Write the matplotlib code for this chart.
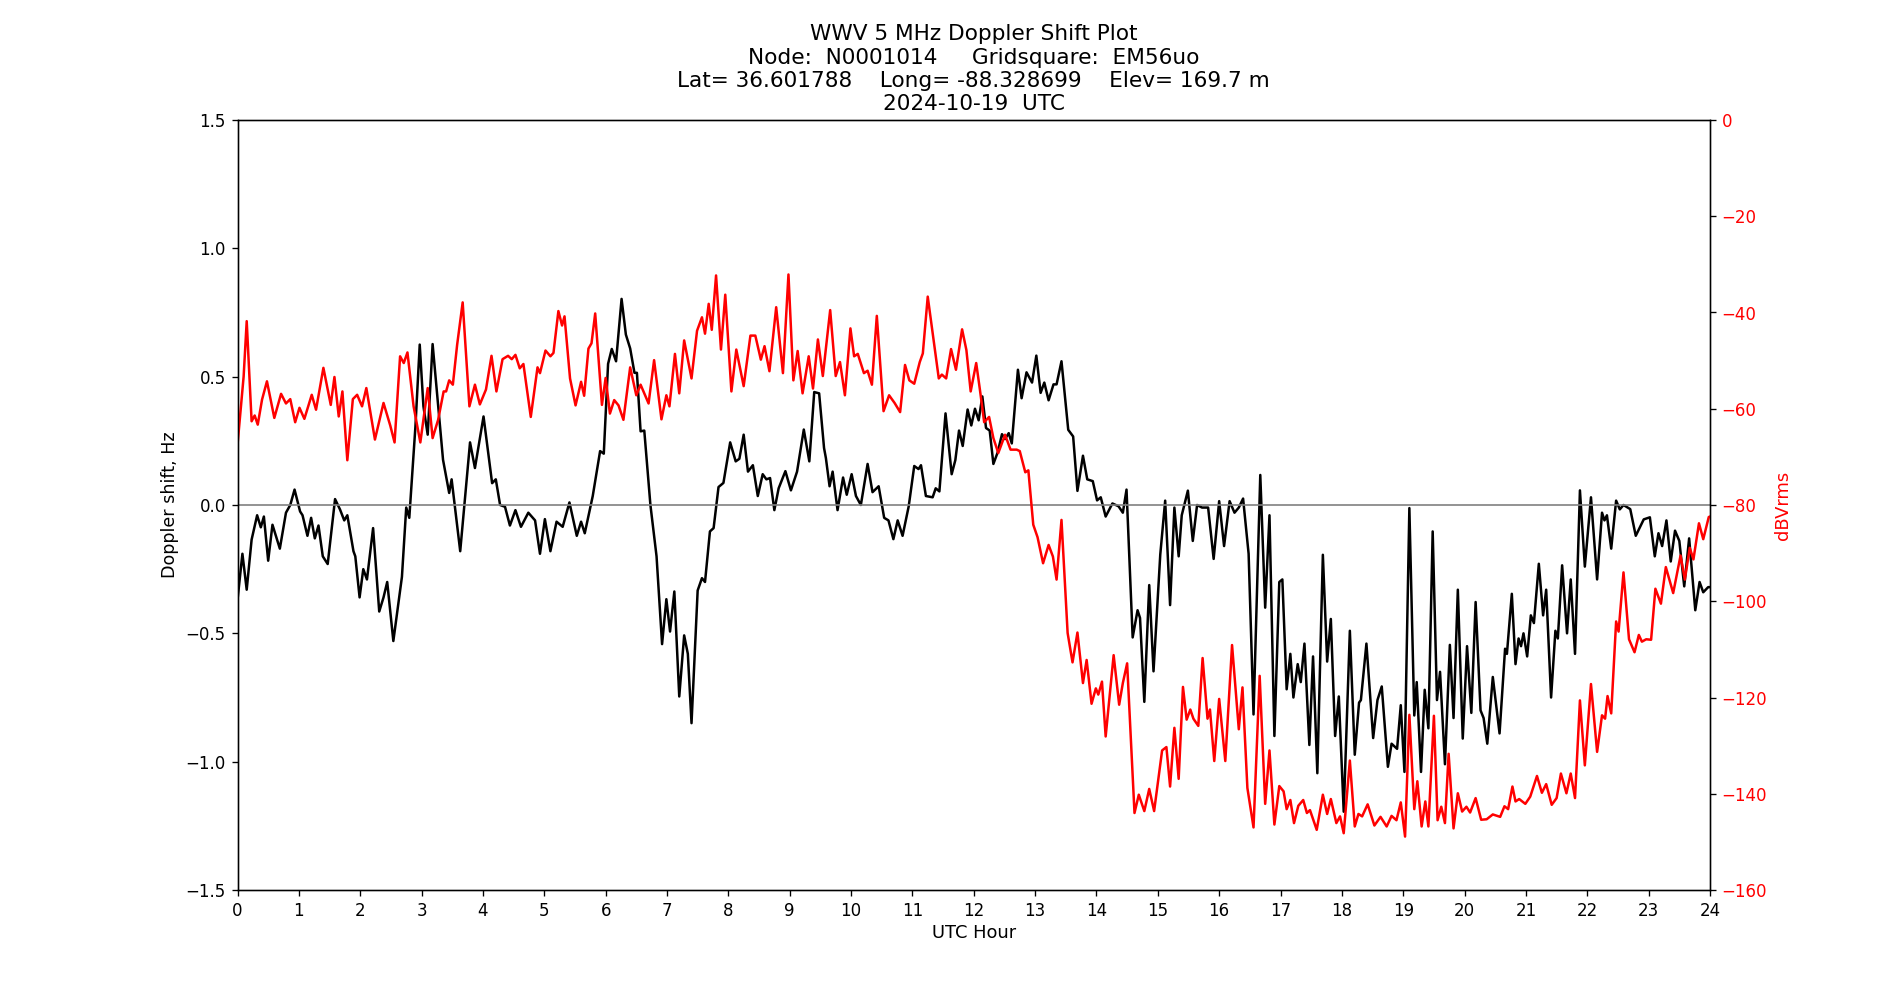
import numpy as np
import matplotlib
matplotlib.use('Agg')
import matplotlib.pyplot as plt

# Doppler shift (Hz) vs UTC hour
dop_hours = [0.00, 0.08, 0.15, 0.23, 0.32, 0.38, 0.43, 0.50, 0.57, 0.69, 0.79, 0.86, 0.93, 1.02, 1.06,
             1.14, 1.20, 1.26, 1.32, 1.39, 1.47, 1.59, 1.67, 1.74, 1.79, 1.89, 1.92, 1.99, 2.05, 2.11,
             2.21, 2.31, 2.38, 2.44, 2.54, 2.68, 2.75, 2.80, 2.90, 2.97, 3.03, 3.10, 3.18, 3.35, 3.38,
             3.45, 3.49, 3.63, 3.79, 3.87, 4.01, 4.15, 4.21, 4.28, 4.36, 4.44, 4.53, 4.62, 4.74, 4.85,
             4.93, 5.01, 5.10, 5.20, 5.30, 5.41, 5.53, 5.60, 5.66, 5.79, 5.91, 5.97, 6.04, 6.10, 6.17,
             6.26, 6.33, 6.40, 6.47, 6.51, 6.57, 6.63, 6.73, 6.83, 6.92, 6.99, 7.05, 7.12, 7.20, 7.28,
             7.34, 7.40, 7.50, 7.57, 7.62, 7.70, 7.76, 7.84, 7.92, 8.03, 8.12, 8.18, 8.25, 8.32, 8.40,
             8.48, 8.56, 8.62, 8.68, 8.75, 8.82, 8.93, 9.02, 9.12, 9.23, 9.32, 9.40, 9.48, 9.56, 9.59,
             9.65, 9.70, 9.78, 9.87, 9.93, 10.01, 10.08, 10.16, 10.27, 10.35, 10.45, 10.54, 10.61, 10.69,
             10.76, 10.84, 10.94, 11.03, 11.10, 11.14, 11.22, 11.33, 11.38, 11.44, 11.54, 11.64, 11.70,
             11.76, 11.82, 11.90, 11.96, 12.02, 12.08, 12.14, 12.20, 12.26, 12.32, 12.39, 12.46, 12.51,
             12.57, 12.62, 12.72, 12.78, 12.86, 12.95, 13.02, 13.09, 13.15, 13.22, 13.30, 13.35, 13.43,
             13.54, 13.62, 13.69, 13.78, 13.85, 13.94, 14.01, 14.07, 14.15, 14.26, 14.36, 14.43, 14.49,
             14.59, 14.67, 14.71, 14.78, 14.86, 14.93, 15.04, 15.12, 15.20, 15.27, 15.34, 15.39, 15.49,
             15.57, 15.64, 15.72, 15.82, 15.91, 16.00, 16.08, 16.17, 16.25, 16.32, 16.39, 16.48, 16.56,
             16.67, 16.75, 16.82, 16.90, 16.98, 17.03, 17.10, 17.16, 17.21, 17.28, 17.33, 17.39, 17.47,
             17.53, 17.60, 17.69, 17.76, 17.82, 17.89, 17.95, 18.03, 18.13, 18.21, 18.28, 18.31, 18.40,
             18.51, 18.58, 18.65, 18.75, 18.81, 18.90, 18.96, 19.02, 19.10, 19.18, 19.22, 19.29, 19.35,
             19.41, 19.48, 19.55, 19.60, 19.68, 19.76, 19.82, 19.89, 19.97, 20.04, 20.11, 20.18, 20.26,
             20.31, 20.37, 20.46, 20.57, 20.66, 20.69, 20.77, 20.83, 20.88, 20.92, 20.96, 21.02, 21.08,
             21.13, 21.21, 21.28, 21.33, 21.41, 21.48, 21.52, 21.59, 21.67, 21.73, 21.80, 21.88, 21.96,
             22.06, 22.16, 22.24, 22.28, 22.32, 22.39, 22.47, 22.53, 22.59, 22.70, 22.79, 22.92, 23.02,
             23.10, 23.16, 23.22, 23.29, 23.36, 23.43, 23.50, 23.58, 23.66, 23.76, 23.83, 23.89, 23.97,
             24.00]
dop_shift = [-0.37, -0.19, -0.33, -0.135, -0.04, -0.087, -0.045, -0.217, -0.077, -0.17, -0.03, 0.0, 0.06, -0.025, -0.04,
             -0.12, -0.05, -0.13, -0.08, -0.2, -0.23, 0.023, -0.017, -0.06, -0.04, -0.18, -0.2, -0.36, -0.25, -0.29,
             -0.09, -0.415, -0.36, -0.30, -0.53, -0.28, -0.01, -0.05, 0.306, 0.625, 0.385, 0.274, 0.627, 0.176, 0.137,
             0.047, 0.1, -0.18, 0.244, 0.144, 0.345, 0.085, 0.1, 0.0, -0.007, -0.08, -0.02, -0.085, -0.03, -0.06,
             -0.19, -0.055, -0.18, -0.065, -0.085, 0.01, -0.12, -0.065, -0.11, 0.035, 0.21, 0.2, 0.55, 0.608, 0.56,
             0.803, 0.664, 0.61, 0.515, 0.515, 0.287, 0.29, 0.0, -0.2, -0.542, -0.367, -0.493, -0.337, -0.746, -0.508,
             -0.58, -0.85, -0.333, -0.285, -0.3, -0.103, -0.09, 0.07, 0.086, 0.244, 0.17, 0.18, 0.274, 0.13, 0.155,
             0.035, 0.12, 0.1, 0.105, -0.02, 0.065, 0.132, 0.057, 0.13, 0.294, 0.17, 0.44, 0.435, 0.222, 0.183,
             0.073, 0.13, -0.02, 0.107, 0.04, 0.12, 0.035, 0.0, 0.16, 0.05, 0.073, -0.05, -0.06, -0.133,
             -0.06, -0.12, -0.005, 0.152, 0.14, 0.155, 0.035, 0.03, 0.065, 0.053, 0.357, 0.12, 0.175,
             0.29, 0.23, 0.372, 0.31, 0.375, 0.33, 0.423, 0.3, 0.29, 0.16, 0.205, 0.276, 0.257,
             0.28, 0.24, 0.527, 0.416, 0.517, 0.477, 0.582, 0.437, 0.477, 0.408, 0.47, 0.47, 0.56,
             0.293, 0.267, 0.055, 0.192, 0.1, 0.093, 0.018, 0.03, -0.045, 0.006, -0.005, -0.03, 0.06,
             -0.516, -0.41, -0.44, -0.767, -0.312, -0.648, -0.193, 0.017, -0.39, -0.01, -0.2, -0.04, 0.056,
             -0.14, 0.0, -0.01, -0.01, -0.21, 0.015, -0.16, 0.015, -0.03, -0.01, 0.025, -0.19, -0.816,
             0.117, -0.4, -0.04, -0.9, -0.3, -0.29, -0.718, -0.58, -0.75, -0.62, -0.69, -0.54, -0.935,
             -0.59, -1.045, -0.194, -0.61, -0.444, -0.9, -0.746, -1.195, -0.49, -0.973, -0.77, -0.76, -0.54,
             -0.908, -0.76, -0.707, -1.02, -0.93, -0.95, -0.78, -1.04, -0.012, -0.82, -0.69, -1.04, -0.72,
             -0.87, -0.103, -0.76, -0.65, -1.01, -0.545, -0.83, -0.33, -0.91, -0.55, -0.81, -0.378, -0.8,
             -0.83, -0.93, -0.67, -0.89, -0.56, -0.58, -0.346, -0.62, -0.52, -0.55, -0.5, -0.59, -0.43,
             -0.46, -0.229, -0.43, -0.33, -0.75, -0.49, -0.52, -0.235, -0.5, -0.29, -0.58, 0.057, -0.24,
             0.03, -0.29, -0.03, -0.06, -0.04, -0.17, 0.017, -0.017, 0.0, -0.016, -0.12, -0.056, -0.048,
             -0.2, -0.11, -0.16, -0.06, -0.22, -0.1, -0.14, -0.317, -0.13, -0.41, -0.3, -0.34, -0.32,
             -0.32]

# received amplitude (dBVrms) vs UTC hour
amp_hours = [0.00, 0.10, 0.15, 0.23, 0.28, 0.33, 0.40, 0.48, 0.60, 0.71, 0.79, 0.86, 0.94, 1.01, 1.09,
             1.21, 1.28, 1.40, 1.52, 1.58, 1.65, 1.71, 1.79, 1.88, 1.95, 2.03, 2.10, 2.24, 2.38, 2.49,
             2.56, 2.65, 2.71, 2.77, 2.87, 2.98, 3.10, 3.18, 3.27, 3.36, 3.40, 3.45, 3.51, 3.58, 3.67,
             3.78, 3.87, 3.95, 4.05, 4.14, 4.22, 4.32, 4.41, 4.47, 4.53, 4.60, 4.66, 4.78, 4.89, 4.93,
             5.02, 5.10, 5.15, 5.23, 5.29, 5.33, 5.42, 5.51, 5.60, 5.65, 5.72, 5.77, 5.83, 5.94, 6.00,
             6.07, 6.14, 6.21, 6.29, 6.40, 6.50, 6.57, 6.70, 6.79, 6.91, 6.99, 7.04, 7.13, 7.20, 7.28,
             7.40, 7.49, 7.57, 7.62, 7.68, 7.73, 7.80, 7.88, 7.95, 8.05, 8.13, 8.25, 8.36, 8.44, 8.53,
             8.59, 8.67, 8.78, 8.89, 8.98, 9.06, 9.13, 9.21, 9.31, 9.38, 9.46, 9.54, 9.66, 9.75, 9.82,
             9.90, 9.99, 10.05, 10.11, 10.21, 10.27, 10.34, 10.42, 10.53, 10.62, 10.71, 10.80, 10.88, 10.95,
             11.03, 11.12, 11.17, 11.25, 11.35, 11.43, 11.48, 11.55, 11.63, 11.71, 11.81, 11.88, 11.95,
             12.04, 12.10, 12.17, 12.25, 12.32, 12.40, 12.51, 12.60, 12.70, 12.75, 12.84, 12.89, 12.97,
             13.04, 13.13, 13.22, 13.29, 13.35, 13.43, 13.53, 13.61, 13.69, 13.78, 13.84, 13.92, 13.99,
             14.03, 14.09, 14.15, 14.28, 14.37, 14.43, 14.50, 14.62, 14.69, 14.78, 14.86, 14.94, 15.07,
             15.14, 15.20, 15.27, 15.34, 15.41, 15.47, 15.53, 15.58, 15.66, 15.73, 15.81, 15.85, 15.92,
             16.00, 16.10, 16.21, 16.32, 16.38, 16.46, 16.56, 16.66, 16.75, 16.82, 16.90, 16.98, 17.05,
             17.10, 17.16, 17.22, 17.29, 17.37, 17.43, 17.48, 17.59, 17.69, 17.76, 17.82, 17.91, 17.97,
             18.03, 18.13, 18.21, 18.27, 18.33, 18.42, 18.53, 18.63, 18.73, 18.81, 18.89, 18.96, 19.03,
             19.10, 19.18, 19.23, 19.30, 19.36, 19.41, 19.50, 19.56, 19.62, 19.68, 19.74, 19.82, 19.89,
             19.96, 20.03, 20.09, 20.18, 20.27, 20.36, 20.46, 20.58, 20.65, 20.71, 20.78, 20.83, 20.89,
             20.99, 21.07, 21.18, 21.26, 21.33, 21.42, 21.50, 21.57, 21.66, 21.73, 21.80, 21.88, 21.96,
             22.06, 22.16, 22.24, 22.29, 22.33, 22.39, 22.47, 22.51, 22.59, 22.68, 22.77, 22.84, 22.89,
             22.96, 23.04, 23.11, 23.20, 23.28, 23.40, 23.52, 23.59, 23.67, 23.73, 23.82, 23.89, 23.98,
             24.00]
amp_dbv = [-67.5, -53.3, -41.8, -62.6, -61.4, -63.3, -58.1, -54.3, -61.9, -56.9, -58.9, -58.0, -62.8, -59.8, -62.1,
           -57.1, -60.2, -51.5, -59.2, -53.4, -61.6, -56.4, -70.7, -58.0, -57.1, -59.5, -55.7, -66.4, -58.8, -63.5,
           -67.0, -49.1, -50.5, -48.3, -59.5, -67.0, -55.7, -66.1, -62.3, -56.4, -56.4, -54.1, -55.0, -46.7, -37.9,
           -59.5, -55.0, -59.1, -56.0, -49.0, -56.4, -49.7, -49.0, -49.7, -48.8, -51.6, -50.7, -61.7, -51.4, -52.6,
           -47.9, -49.1, -48.4, -39.7, -42.7, -40.8, -53.7, -59.3, -54.4, -57.3, -47.5, -46.4, -40.2, -59.2, -53.6,
           -61.0, -58.2, -59.3, -62.3, -51.4, -57.2, -55.0, -58.9, -49.9, -62.2, -57.2, -59.5, -48.6, -56.8, -45.8,
           -53.7, -43.8, -41.0, -44.4, -38.2, -43.6, -32.3, -47.7, -36.3, -56.4, -47.7, -55.3, -44.8, -44.8, -49.8,
           -47.0, -52.2, -38.9, -52.6, -32.1, -54.1, -48.0, -56.8, -49.1, -55.8, -45.6, -53.2, -39.5, -53.2, -50.3,
           -57.2, -43.3, -49.1, -48.6, -52.6, -52.1, -55.0, -40.7, -60.5, -57.2, -58.8, -60.7, -50.9, -54.1,
           -54.8, -50.3, -48.5, -36.7, -46.1, -53.7, -52.9, -53.7, -47.6, -51.9, -43.5, -47.8, -56.4,
           -50.5, -56.0, -62.8, -61.7, -66.1, -69.2, -65.4, -68.5, -68.5, -68.8, -73.2, -72.8, -84.1,
           -86.7, -92.1, -88.3, -90.7, -95.5, -83.1, -106.6, -112.7, -106.5, -117.0, -112.2, -121.3, -118.1,
           -119.4, -116.7, -128.1, -111.2, -121.5, -117.0, -112.9, -144.0, -140.2, -143.6, -139.0, -143.6, -131.0,
           -130.3, -138.5, -126.3, -136.9, -117.8, -124.6, -122.5, -124.4, -125.9, -111.8, -124.4, -122.5, -133.2,
           -120.3, -133.2, -109.1, -126.6, -117.9, -138.8, -147.0, -115.5, -142.1, -131.0, -146.4, -138.4, -139.5,
           -143.2, -141.3, -146.1, -142.5, -141.3, -144.0, -143.4, -147.5, -140.2, -144.2, -141.1, -146.1, -144.7,
           -148.2, -133.1, -146.8, -144.2, -144.7, -142.2, -146.6, -144.8, -146.8, -144.6, -145.5, -141.8, -148.9,
           -123.6, -143.2, -137.4, -146.8, -141.6, -146.8, -123.8, -145.5, -142.7, -146.1, -131.7, -147.2, -139.9,
           -143.7, -142.7, -143.9, -140.9, -145.4, -145.3, -144.3, -144.8, -142.6, -143.2, -138.5, -141.6, -141.1,
           -142.1, -140.6, -136.3, -139.8, -138.0, -142.3, -140.9, -135.8, -139.9, -135.8, -140.9, -120.6, -134.1,
           -117.2, -131.3, -123.7, -124.4, -119.7, -123.3, -104.2, -106.3, -94.0, -107.9, -110.6, -107.0, -108.4,
           -107.9, -108.0, -97.4, -100.5, -92.9, -98.3, -90.5, -95.5, -88.9, -91.3, -83.8, -87.1, -82.5,
           -82.4]

hour_ticks = list(range(0, 25))

node = 'N0001014'
grid = 'EM56uo'
lat = '36.601788'
lon = '-88.328699'
elev = '169.7'
date = '2024-10-19'

fig = plt.figure(figsize=(19.0 / 1.2, 10.0 / 1.2), dpi=120)
ax = fig.add_subplot(111)

ax.plot(dop_hours, dop_shift, color='k', linewidth=1.5)
ax.axhline(0, color='gray', linewidth=1)
ax.set_xlim(0, 24)
ax.set_ylim(-1.5, 1.5)
ax.set_xticks(hour_ticks)
ax.set_xlabel('UTC Hour', fontsize=10.75, labelpad=2.5)
ax.set_ylabel('Doppler shift, Hz', fontsize=10.5)

ax2 = ax.twinx()
ax2.plot(amp_hours, amp_dbv, color='r', linewidth=1.5)
ax2.set_ylim(-160, 0)
ax2.set_ylabel('dBVrms', color='r', fontsize=10.75)
ax2.tick_params(axis='y', labelcolor='r')

ax.set_title('WWV 5 MHz Doppler Shift Plot\n'
             'Node:  {}     Gridsquare:  {}\n'
             'Lat= {}    Long= {}    Elev= {} m\n'
             '{}  UTC'.format(node, grid, lat, lon, elev, date), fontsize=13)

fig.savefig('out.png', dpi=120)
